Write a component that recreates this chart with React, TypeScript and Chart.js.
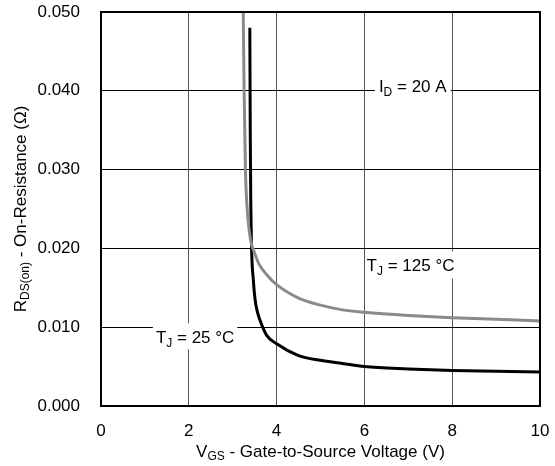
import React, { useEffect, useRef } from "react";
import { Chart, registerables } from "chart.js";

Chart.register(...registerables);

// T_J = 125 °C curve
const vgs125 = [3.24, 3.26, 3.29, 3.33, 3.41, 3.5, 3.6, 3.8, 4.0, 4.5, 5.0, 5.5, 6.0, 7.0, 8.0, 9.0, 10.0];
const rds125 = [0.05, 0.04, 0.03, 0.025, 0.021, 0.0194, 0.018, 0.0165, 0.0154, 0.0137, 0.0128, 0.0122, 0.0119, 0.0115, 0.0112, 0.011, 0.0108];
// T_J = 25 °C curve
const vgs25 = [3.39, 3.4, 3.41, 3.43, 3.47, 3.51, 3.56, 3.62, 3.77, 4.0, 4.5, 5.0, 5.5, 6.0, 7.0, 8.0, 9.0, 10.0];
const rds25 = [0.048, 0.035, 0.027, 0.02, 0.016, 0.0135, 0.012, 0.0109, 0.009, 0.0079, 0.0064, 0.0058, 0.0054, 0.005, 0.0047, 0.0045, 0.0044, 0.0043];

const xMin = 0;
const xMax = 10;
const xStep = 2;
const yMin = 0;
const yMax = 0.05;
const yStep = 0.01;

const FONT = '"Liberation Sans", Arial, Helvetica, sans-serif';

type Part = { t: string; sub?: boolean };

function drawRich(ctx: CanvasRenderingContext2D, parts: Part[], x: number, y: number, size: number, align: "left" | "center") {
  const subSize = Math.round(size * 0.7);
  const widths = parts.map((p) => {
    ctx.font = `${p.sub ? subSize : size}px ${FONT}`;
    return ctx.measureText(p.t).width;
  });
  const total = widths.reduce((a, b) => a + b, 0);
  let cx = align === "center" ? x - total / 2 : x;
  ctx.textBaseline = "middle";
  ctx.textAlign = "left";
  parts.forEach((p, i) => {
    ctx.font = `${p.sub ? subSize : size}px ${FONT}`;
    ctx.fillText(p.t, cx, p.sub ? y + size * 0.3 : y);
    cx += widths[i];
  });
  return total;
}

const labels = [
  { parts: [{ t: "I" }, { t: "D", sub: true }, { t: " = 20 A" }], x: 6.33, y: 0.0404, box: [-4, -10, 4, 10] },
  { parts: [{ t: "T" }, { t: "J", sub: true }, { t: " = 125 °C" }], x: 6.05, y: 0.0177, box: [-1, -15, 3, 12] },
  { parts: [{ t: "T" }, { t: "J", sub: true }, { t: " = 25 °C" }], x: 1.25, y: 0.0086, box: [-3, -15, 3, 11] },
];

const annotPlugin = {
  id: "annot",
  afterDatasetsDraw(chart: any) {
    const ctx: CanvasRenderingContext2D = chart.ctx;
    const xs = chart.scales.x;
    const ys = chart.scales.y;
    const { left, right, top, bottom } = chart.chartArea;
    ctx.save();
    labels.forEach((l) => {
      const px = xs.getPixelForValue(l.x);
      const py = ys.getPixelForValue(l.y);
      let w = 0;
      l.parts.forEach((p: Part) => {
        ctx.font = `${p.sub ? 12 : 17}px ${FONT}`;
        w += ctx.measureText(p.t).width;
      });
      ctx.fillStyle = "#ffffff";
      ctx.fillRect(px + l.box[0], py + l.box[1], w - l.box[0] + l.box[2], l.box[3] - l.box[1]);
      ctx.fillStyle = "#000000";
      drawRich(ctx, l.parts, px, py, 17, "left");
    });
    // frame
    ctx.strokeStyle = "#000";
    ctx.lineWidth = 2;
    ctx.strokeRect(left, top, right - left, bottom - top);
    // axis titles
    ctx.fillStyle = "#000";
    drawRich(
      ctx,
      [{ t: "V" }, { t: "GS", sub: true }, { t: " - Gate-to-Source Voltage (V)" }],
      (left + right) / 2,
      452,
      17,
      "center"
    );
    ctx.translate(21, (top + bottom) / 2);
    ctx.rotate(-Math.PI / 2);
    drawRich(
      ctx,
      [{ t: "R" }, { t: "DS(on)", sub: true }, { t: " - On-Resistance (Ω)" }],
      0,
      0,
      17,
      "center"
    );
    ctx.restore();
  },
};

export default function App() {
  const ref = useRef<HTMLCanvasElement | null>(null);
  useEffect(() => {
    if (!ref.current) return;
    const chart = new Chart(ref.current, {
      type: "line",
      data: {
        datasets: [
          {
            label: "TJ = 125 °C",
            data: vgs125.map((x, i) => ({ x, y: rds125[i] })),
            borderColor: "#8a8a8a",
            borderWidth: 3,
            pointRadius: 0,
            cubicInterpolationMode: "monotone",
            fill: false,
          },
          {
            label: "TJ = 25 °C",
            data: vgs25.map((x, i) => ({ x, y: rds25[i] })),
            borderColor: "#000000",
            borderWidth: 3,
            pointRadius: 0,
            cubicInterpolationMode: "monotone",
            fill: false,
          },
        ],
      },
      options: {
        responsive: false,
        animation: false,
        devicePixelRatio: 1,
        layout: { padding: { top: 12, right: 15, left: 0, bottom: 0 } },
        plugins: { legend: { display: false }, tooltip: { enabled: false } },
        scales: {
          x: {
            type: "linear",
            min: xMin,
            max: xMax,
            ticks: {
              stepSize: xStep,
              padding: 15,
              color: "#000",
              font: { family: FONT, size: 17 },
              maxRotation: 0,
            },
            grid: { color: "#555", lineWidth: 1, drawTicks: false },
            border: { display: false },
            afterFit: (s: any) => {
              s.height = 60;
              s.paddingLeft = 0;
              s.paddingRight = 0;
              s.paddingTop = 0;
              s.paddingBottom = 0;
            },
          },
          y: {
            type: "linear",
            min: yMin,
            max: yMax,
            ticks: {
              stepSize: yStep,
              padding: 21,
              color: "#000",
              font: { family: FONT, size: 17 },
              callback: (v: any) => Number(v).toFixed(3),
            },
            grid: { color: "#000", lineWidth: 1, drawTicks: false },
            border: { display: false },
            afterFit: (s: any) => {
              s.width = 101;
              s.paddingLeft = 0;
              s.paddingRight = 0;
              s.paddingTop = 0;
              s.paddingBottom = 0;
            },
          },
        },
      },
      plugins: [annotPlugin],
    } as any);
    return () => chart.destroy();
  }, []);
  return (
    <div style={{ position: "absolute", left: 0, top: 0, width: 555, height: 466, background: "#fff" }}>
      <canvas ref={ref} width={555} height={466} />
    </div>
  );
}
